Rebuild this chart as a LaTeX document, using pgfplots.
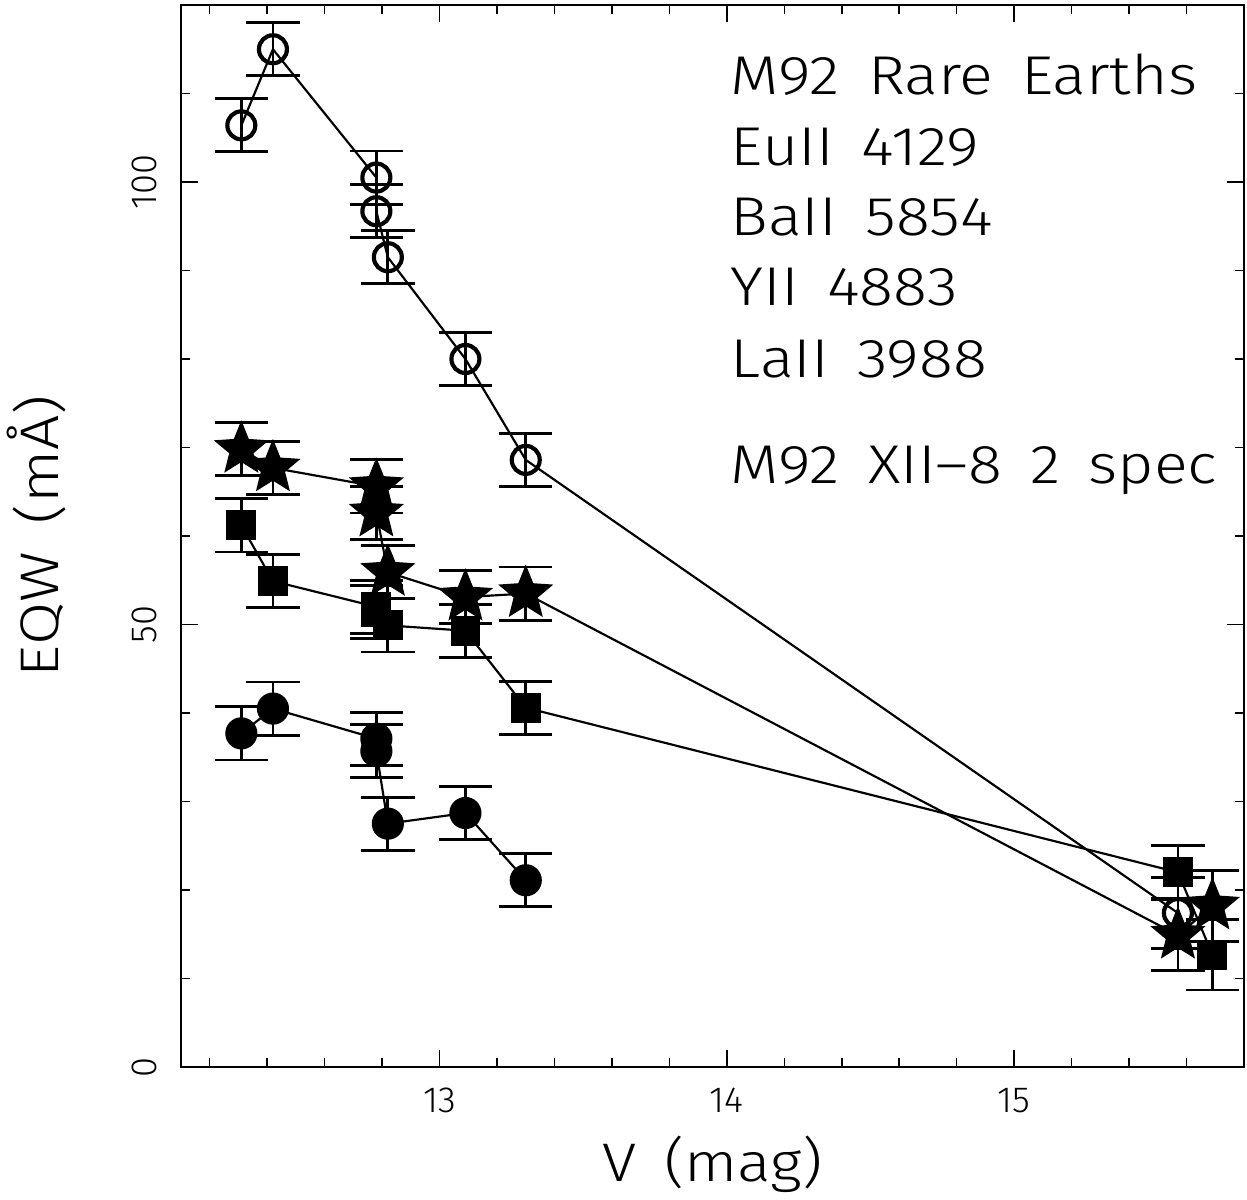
\documentclass[border=0pt]{standalone}
\usepackage{fontspec}
\setmainfont{Fira Sans Light}[FakeStretch=1.15, WordSpace=1.6]
\newfontfamily\tickfont{Fira Sans Light}
\usepackage{pgfplots}
\pgfplotsset{compat=1.18}

% filled five-pointed star
\pgfdeclareplotmark{fstar}{%
  \pgfpathmoveto{\pgfpointpolar{90}{\pgfplotmarksize}}%
  \pgfpathlineto{\pgfpointpolar{126}{0.44\pgfplotmarksize}}%
  \pgfpathlineto{\pgfpointpolar{162}{\pgfplotmarksize}}%
  \pgfpathlineto{\pgfpointpolar{198}{0.44\pgfplotmarksize}}%
  \pgfpathlineto{\pgfpointpolar{234}{\pgfplotmarksize}}%
  \pgfpathlineto{\pgfpointpolar{270}{0.44\pgfplotmarksize}}%
  \pgfpathlineto{\pgfpointpolar{306}{\pgfplotmarksize}}%
  \pgfpathlineto{\pgfpointpolar{342}{0.44\pgfplotmarksize}}%
  \pgfpathlineto{\pgfpointpolar{18}{\pgfplotmarksize}}%
  \pgfpathlineto{\pgfpointpolar{54}{0.44\pgfplotmarksize}}%
  \pgfpathclose
  \pgfusepathqfill}

% V, EQW, error
\pgfplotstableread{
V     W      E
12.31 106.4  3
12.42 115.0  3
12.78 100.5  3
12.78  96.7  3
12.82  91.5  3
13.09  80.0  3
13.30  68.6  3
15.57  17.4  4
}\opencirc
\pgfplotstableread{
V     W      E
12.31  69.8  3
12.42  67.7  3
12.78  65.6  3
12.78  62.6  3
12.82  55.9  3
13.09  53.1  3
13.30  53.5  3
15.57  14.9  4
15.69  18.2  4
}\stars
\pgfplotstableread{
V     W      E
12.31  61.2  3
12.42  54.9  3
12.78  52.0  3
12.78  51.4  3
12.82  49.9  3
13.09  49.3  3
13.30  40.6  3
15.57  22.0  3
15.69  12.7  4
}\squares
\pgfplotstableread{
V     W      E
12.31  37.7  3
12.42  40.5  3
12.78  37.1  3
12.78  35.7  3
12.82  27.5  3
13.09  28.7  3
13.30  21.1  3
}\filleddots

\begin{document}
\begin{tikzpicture}
\path[use as bounding box] (-54.3pt,-39.6pt) rectangle (319.8pt,320.1pt);
\begin{axis}[
  at={(0pt,0pt)}, anchor=south west,
  scale only axis, width=318.9pt, height=318.6pt,
  xmin=12.1, xmax=15.8, ymin=0, ymax=120,
  xtick={13,14,15},
  minor xtick={12.2,12.4,12.6,12.8,13.2,13.4,13.6,13.8,14.2,14.4,14.6,14.8,15.2,15.4,15.6},
  ytick={0,50,100},
  minor ytick={10,20,30,40,60,70,80,90,110},
  tick align=inside,
  major tick length=5.1pt, minor tick length=2.6pt,
  every tick/.style={black, line width=0.45pt},
  axis line style={black, line width=0.55pt},
  /pgf/number format/assume math mode=true,
  ticklabel style={font=\tickfont\fontsize{10.9}{12}\selectfont},
  xticklabel style={anchor=north, inner sep=0pt, outer sep=6.3pt},
  yticklabel style={rotate=90, anchor=south, inner sep=0pt, outer sep=7.2pt},
  xlabel={V (mag)}, ylabel={EQW (mÅ)},
  label style={font=\fontsize{16.3}{19}\selectfont},
  xlabel style={at={(axis description cs:0.5,-0.108)}, anchor=base},
  ylabel style={at={(axis description cs:-0.1157,0.5)}, anchor=base},
  clip=false,
  every axis plot/.append style={black, line width=0.65pt},
  error bars/y dir=both, error bars/y explicit,
  error bars/error mark=|,
  error bars/error bar style={line width=0.85pt},
  error bars/error mark options={mark size=8pt, line width=0.85pt},
]
\addplot[mark=o, mark size=4.2pt, mark options={line width=1.25pt}]
  table[x=V, y=W, y error=E] {\opencirc};
\addplot[mark=fstar, mark size=8.7pt]
  table[x=V, y=W, y error=E] {\stars};
\addplot[mark=square*, mark size=4.15pt]
  table[x=V, y=W, y error=E] {\squares};
\addplot[mark=*, mark size=4.5pt]
  table[x=V, y=W, y error=E] {\filleddots};

\begin{scope}[every node/.style={anchor=base west, inner sep=0pt,
    font=\fontsize{16.4}{19}\selectfont}]
\node at (axis description cs:0.5165,0.9153) {M92 Rare Earths};
\node at (axis description cs:0.5165,0.8493) {EuII 4129};
\node at (axis description cs:0.5165,0.7825) {BaII 5854};
\node at (axis description cs:0.5165,0.7166) {YII 4883};
\node at (axis description cs:0.5165,0.6491) {LaII 3988};
\node at (axis description cs:0.5165,0.5490) {M92 XII–8 2 spec};
\end{scope}
\end{axis}
\end{tikzpicture}
\end{document}
